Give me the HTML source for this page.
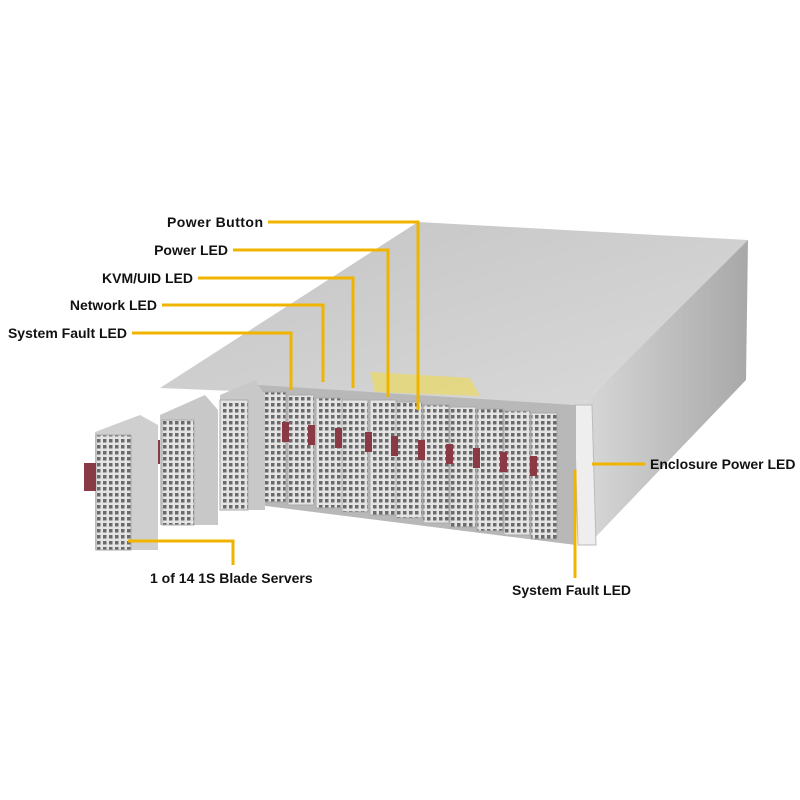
<!DOCTYPE html>
<html><head><meta charset="utf-8"><style>
html,body{margin:0;padding:0;background:#fff;}
svg{display:block}
text{font-family:"Liberation Sans",sans-serif;font-weight:bold;font-size:14px;fill:#111}
</style></head><body>
<svg width="800" height="800" viewBox="0 0 800 800">
<defs>
<pattern id="grid" width="6" height="6" patternUnits="userSpaceOnUse">
<rect width="6" height="6" fill="#e4e4e4"/><rect x="1" y="1" width="3.5" height="3.5" fill="#6a6a6a"/>
</pattern>
<linearGradient id="top" x1="0" y1="0" x2="1" y2="1">
<stop offset="0" stop-color="#c4c4c4"/><stop offset="1" stop-color="#dadada"/></linearGradient>
<linearGradient id="side" x1="0" y1="0" x2="1" y2="0">
<stop offset="0" stop-color="#d8d8d8"/><stop offset="1" stop-color="#a8a8a8"/></linearGradient>
</defs>
<polygon points="418,222 748,240 582,405 160,388" fill="url(#top)"/>
<polygon points="582,405 748,240 746,380 588,545" fill="url(#side)"/>
<polygon points="574,405 592,405 596,545 578,545" fill="#eee" stroke="#bbb"/>
<polygon points="370,372 470,378 480,396 375,392" fill="#e8d870" opacity="0.8"/>
<polygon points="258,385 576,405 576,545 258,505" fill="#b8b8b8"/>
<g stroke="#aaa" stroke-width="1">
<rect x="260" y="392" width="26" height="110" fill="url(#grid)"/>
<rect x="288" y="395" width="26" height="110" fill="url(#grid)"/>
<rect x="316" y="398" width="26" height="110" fill="url(#grid)"/>
<rect x="342" y="400" width="26" height="112" fill="url(#grid)"/>
<rect x="370" y="400" width="26" height="115" fill="url(#grid)"/>
<rect x="396" y="402" width="26" height="116" fill="url(#grid)"/>
<rect x="423" y="405" width="26" height="118" fill="url(#grid)"/>
<rect x="450" y="407" width="26" height="120" fill="url(#grid)"/>
<rect x="477" y="409" width="26" height="122" fill="url(#grid)"/>
<rect x="504" y="411" width="26" height="124" fill="url(#grid)"/>
<rect x="531" y="413" width="26" height="126" fill="url(#grid)"/>
</g>
<g fill="#8a3a44">
<rect x="255" y="420" width="7" height="20"/><rect x="282" y="422" width="7" height="20"/>
<rect x="308" y="425" width="7" height="20"/><rect x="335" y="428" width="7" height="20"/>
<rect x="365" y="432" width="7" height="20"/><rect x="391" y="436" width="7" height="20"/>
<rect x="418" y="440" width="7" height="20"/><rect x="446" y="444" width="7" height="20"/>
<rect x="473" y="448" width="7" height="20"/><rect x="500" y="452" width="7" height="20"/>
<rect x="530" y="456" width="7" height="20"/>
</g>
<polygon points="220,395 255,380 265,395 265,510 220,510" fill="#c8c8c8"/>
<rect x="220" y="400" width="28" height="110" fill="url(#grid)" stroke="#aaa"/>
<rect x="210" y="420" width="8" height="22" fill="#8a3a44"/>
<polygon points="160,415 205,395 218,410 218,525 160,525" fill="#c8c8c8"/>
<rect x="162" y="420" width="32" height="105" fill="url(#grid)" stroke="#aaa"/>
<rect x="152" y="440" width="8" height="24" fill="#8a3a44"/>
<polygon points="95,432 140,415 158,425 158,550 95,550" fill="#cfcfcf"/>
<rect x="96" y="435" width="35" height="115" fill="url(#grid)" stroke="#aaa"/>
<rect x="84" y="463" width="12" height="28" fill="#8a3a44"/>
<g stroke="#f0b400" stroke-width="3" fill="none">
<polyline points="268,222 418,222 418,410"/>
<polyline points="233,250 388,250 388,397"/>
<polyline points="198,278 353,278 353,388"/>
<polyline points="162,305 323,305 323,382"/>
<polyline points="132,333 291,333 291,390"/>
<polyline points="128,541 233,541 233,565"/>
<polyline points="592,464 645,464"/>
<polyline points="575,470 575,578"/>
</g>
<text x="263" y="227" text-anchor="end" textLength="96">Power Button</text>
<text x="228" y="255" text-anchor="end">Power LED</text>
<text x="193" y="283" text-anchor="end">KVM/UID LED</text>
<text x="157" y="310" text-anchor="end">Network LED</text>
<text x="127" y="338" text-anchor="end">System Fault LED</text>
<text x="150" y="583">1 of 14 1S Blade Servers</text>
<text x="650" y="469">Enclosure Power LED</text>
<text x="512" y="595">System Fault LED</text>
</svg>
</body></html>
